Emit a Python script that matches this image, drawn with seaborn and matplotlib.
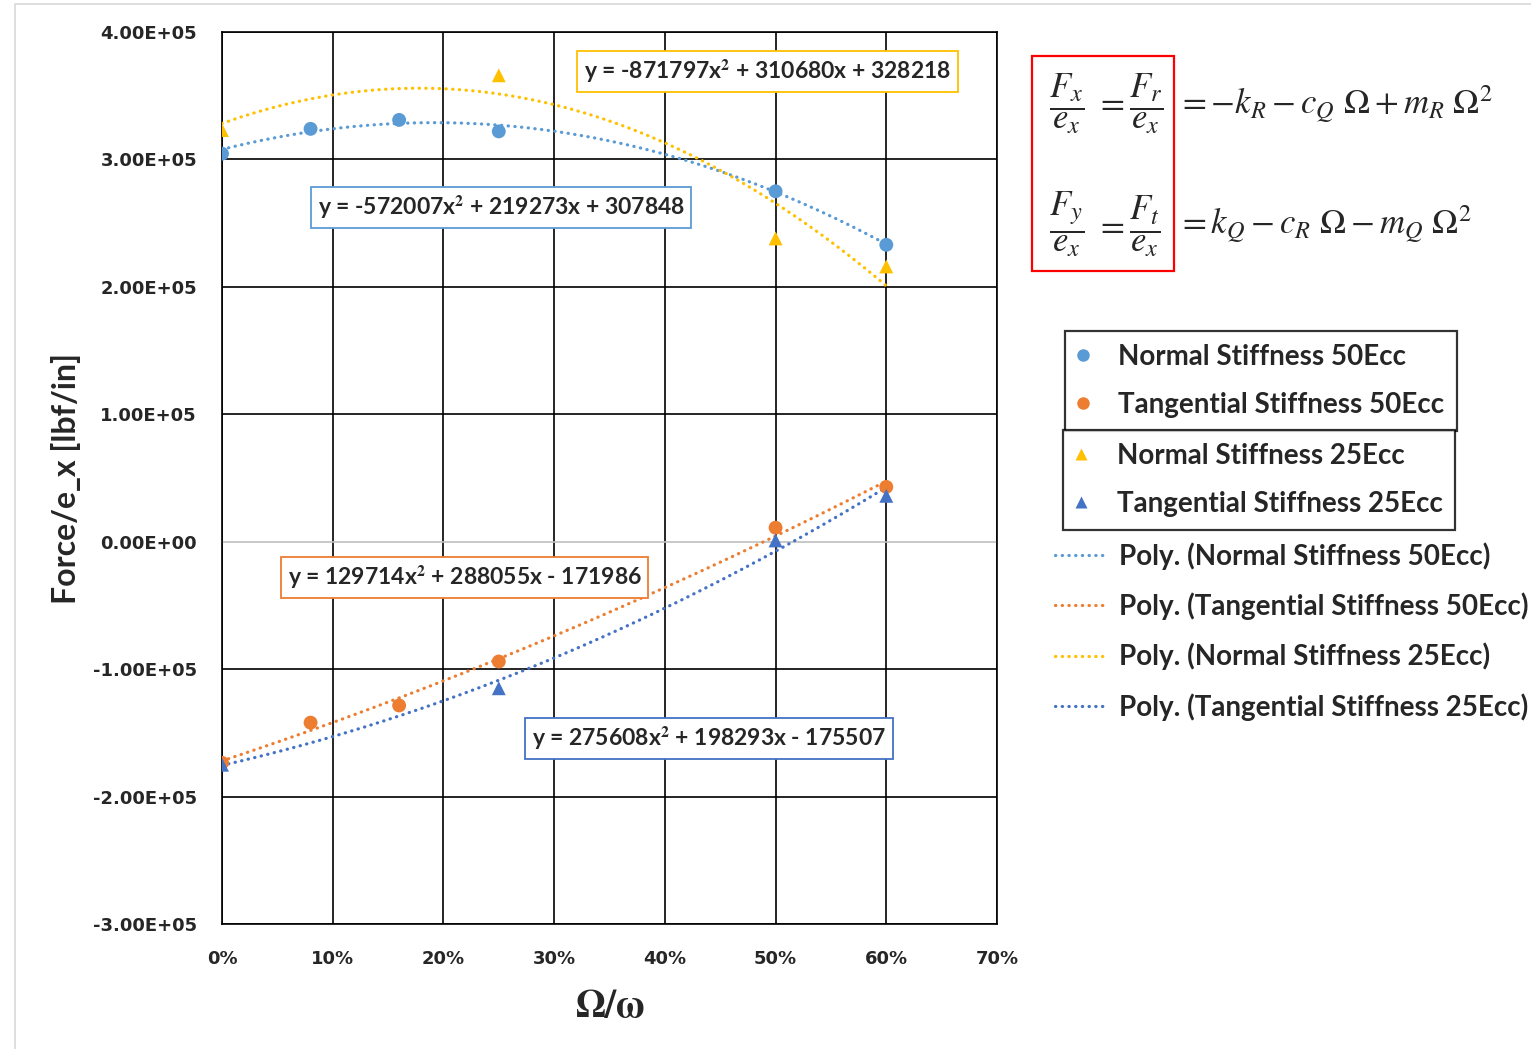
import numpy as np
import pandas as pd
import seaborn as sns
import matplotlib.pyplot as plt
from matplotlib.patches import Rectangle
from matplotlib.lines import Line2D

# data (x = Omega/omega, y = Force/e_x)
x_50 = [0.0, 0.08, 0.16, 0.25, 0.50, 0.60]
normal_50 = [304500, 324000, 331000, 322000, 275000, 233000]
tangential_50 = [-173500, -142000, -128500, -94000, 11000, 43000]

x_25 = [0.0, 0.25, 0.50, 0.60]
normal_25 = [323000, 366000, 238000, 216000]
tangential_25 = [-175000, -115000, 1000, 36000]

# trendline coefficients as printed on the chart
coef_normal_50 = [-572007, 219273, 307848]
coef_tangential_50 = [129714, 288055, -171986]
coef_normal_25 = [-871797, 310680, 328218]
coef_tangential_25 = [275608, 198293, -175507]

series_names = ["Normal Stiffness 50Ecc", "Tangential Stiffness 50Ecc",
                "Normal Stiffness 25Ecc", "Tangential Stiffness 25Ecc"]
colors = ["#5B9BD5", "#ED7D31", "#FFC000", "#4472C4"]
markers = ["o", "o", "^", "^"]
eq_labels = ["y = -572007x$^{\\mathbf{2}}$ + 219273x + 307848",
             "y = 129714x$^{\\mathbf{2}}$ + 288055x - 171986",
             "y = -871797x$^{\\mathbf{2}}$ + 310680x + 328218",
             "y = 275608x$^{\\mathbf{2}}$ + 198293x - 175507"]

yticks = [-3e5, -2e5, -1e5, 0, 1e5, 2e5, 3e5, 4e5]
ytick_labels = ["-3.00E+05", "-2.00E+05", "-1.00E+05", "0.00E+00",
                "1.00E+05", "2.00E+05", "3.00E+05", "4.00E+05"]
xticks = [0, 0.1, 0.2, 0.3, 0.4, 0.5, 0.6, 0.7]
xtick_labels = ["0%", "10%", "20%", "30%", "40%", "50%", "60%", "70%"]

W, H = 1531, 1049


def fx(px):
    return px / W


def fy(py):
    return 1 - py / H


sns.set_style("white")
plt.rcParams["mathtext.fontset"] = "stix"

fig = plt.figure(figsize=(W / 100, H / 100), dpi=100)
ax = fig.add_axes([fx(222), fy(924), fx(997) - fx(222), fy(32) - fy(924)])

xs_list = [x_50, x_50, x_25, x_25]
ys_list = [normal_50, tangential_50, normal_25, tangential_25]
coefs = [coef_normal_50, coef_tangential_50, coef_normal_25, coef_tangential_25]
dots = (0, (0.1, 2.0))

xfit = np.linspace(0, 0.6, 200)
for xs, ys, coef, c, m, name in zip(xs_list, ys_list, coefs, colors, markers, series_names):
    fit_df = pd.DataFrame({"x": xfit, "y": np.polyval(coef, xfit)})
    sns.lineplot(data=fit_df, x="x", y="y", ax=ax, color=c, lw=2.3,
                 linestyle=dots, dash_capstyle="round", zorder=3)
    sns.scatterplot(x=xs, y=ys, ax=ax, color=c, marker=m, s=100,
                    edgecolor="none", zorder=4)

ax.set_xlim(0, 0.7)
ax.set_ylim(-3e5, 4e5)
ax.set_xticks(xticks)
ax.set_xticklabels(xtick_labels, fontsize=13, fontweight="bold", family="DejaVu Sans")
ax.set_yticks(yticks)
ax.set_yticklabels(ytick_labels, fontsize=13, fontweight="bold", family="DejaVu Sans")
ax.tick_params(axis="y", length=0, pad=18)
ax.tick_params(axis="x", length=0, pad=19)
ax.grid(True, color="black", lw=1.2)
for val, gl in zip(yticks, ax.get_ygridlines()):
    if val == 0:
        gl.set_color("#BFBFBF")
for sp in ax.spines.values():
    sp.set_color("black")
    sp.set_linewidth(1.2)
ax.set_xlabel("")
ax.set_ylabel("")

fig.text(fx(610), fy(1006), r"$\mathbf{\Omega/\omega}$", ha="center", va="center", fontsize=28)
fig.text(fx(66), fy(478), "Force/e_x [lbf/in]", ha="center", va="center", rotation=90,
         fontsize=23, fontweight="bold", family="Lato")

# trendline equations
eq_pos = [(0.252, 2.62e5), (0.219, -0.283e5), (0.493, 3.69e5), (0.44, -1.546e5)]
for (ex, ey), lab, c in zip(eq_pos, eq_labels, colors):
    ax.text(ex, ey, lab, ha="center", va="center", fontsize=16.5,
            fontweight="bold", family="Lato", zorder=6,
            bbox=dict(boxstyle="square,pad=0.3", fc="white", ec=c, lw=1.3))

# equations in upper right
fs_eq = 25
fig.text(fx(1049), fy(104), r"$\dfrac{F_x}{e_x}\ =\dfrac{F_r}{e_x}$", fontsize=fs_eq, va="center", ha="left")
fig.text(fx(1049), fy(224), r"$\dfrac{F_y}{e_x}\ =\dfrac{F_t}{e_x}$", fontsize=fs_eq, va="center", ha="left")
fig.text(fx(1177), fy(104), r"$= -k_R - c_Q\ \Omega + m_R\ \Omega^2$", fontsize=fs_eq, va="center", ha="left")
fig.text(fx(1177), fy(224), r"$= k_Q - c_R\ \Omega - m_Q\ \Omega^2$", fontsize=fs_eq, va="center", ha="left")
fig.patches.append(Rectangle((fx(1032), fy(271)), fx(1174) - fx(1032), fy(56) - fy(271),
                             transform=fig.transFigure, fill=False, ec="red", lw=1.6))

# chart border
fig.patches.append(Rectangle((fx(15), fy(1060)), fx(1560) - fx(15), fy(4) - fy(1060),
                             transform=fig.transFigure, fill=False, ec="#D9D9D9", lw=1.2))

# legends
leg_font = dict(family="Lato", weight="bold", size=20)
marker_handles = [Line2D([], [], ls="none", marker=m, color=c, ms=9, mec="none")
                  for c, m in zip(colors, markers)]
line_handles = [Line2D([], [], color=c, lw=2.3, ls=dots, dash_capstyle="round")
                for c in colors]

common = dict(loc="upper left", borderaxespad=0, prop=leg_font)
leg1 = fig.legend(marker_handles[:2], series_names[:2], bbox_to_anchor=(fx(1065), fy(331)),
                  frameon=True, fancybox=False, edgecolor="black", handlelength=0.37,
                  handletextpad=1.07, borderpad=0.46, labelspacing=0.8, **common)
leg1.get_frame().set_linewidth(1.6)
leg2 = fig.legend(marker_handles[2:], series_names[2:], bbox_to_anchor=(fx(1063), fy(430)),
                  frameon=True, fancybox=False, edgecolor="black", handlelength=0.37,
                  handletextpad=1.1, borderpad=0.46, labelspacing=0.8, **common)
leg2.get_frame().set_linewidth(1.6)
leg3 = fig.legend(line_handles, ["Poly. (%s)" % n for n in series_names],
                  bbox_to_anchor=(fx(1055), fy(542)), frameon=False, handlelength=1.9,
                  handletextpad=0.4, borderpad=0, labelspacing=0.82, **common)

fig.savefig("out.png", dpi=100)
